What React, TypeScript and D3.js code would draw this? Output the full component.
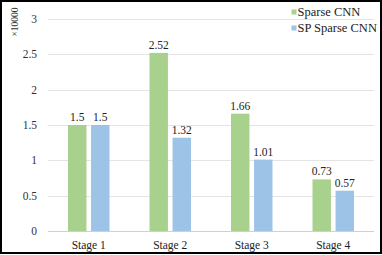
import React, { useRef, useEffect } from 'react';
import * as d3 from 'd3';

const stages = ['Stage 1', 'Stage 2', 'Stage 3', 'Stage 4'];
const seriesNames = ['Sparse CNN', 'SP Sparse CNN'];
const sparseCnn = [1.5, 2.52, 1.66, 0.73];
const spSparseCnn = [1.5, 1.32, 1.01, 0.57];
const yTicks = [0, 0.5, 1, 1.5, 2, 2.5, 3];
const colors = ['#A9D18E', '#9DC3E6'];

export default function App() {
    const svgRef = useRef<SVGSVGElement>(null);
    const width = 382;
    const height = 255;
    const margin = { top: 19, right: 8, bottom: 24, left: 48 };
    const font = '"Liberation Serif", "Times New Roman", serif';

    useEffect(() => {
        const svg = d3.select(svgRef.current);
        svg.selectAll('*').remove();

        const values = [sparseCnn, spSparseCnn];

        const x = d3.scaleBand()
            .domain(stages)
            .range([margin.left, width - margin.right]);

        const inner = d3.scaleBand()
            .domain(seriesNames)
            .range([0, 41.5])
            .paddingInner(0.2);

        const y = d3.scaleLinear()
            .domain([0, 3])
            .range([height - margin.bottom, margin.top]);

        svg.append('rect')
            .attr('width', width)
            .attr('height', height)
            .attr('fill', 'white');

        // gridlines
        svg.append('g')
            .selectAll('line')
            .data(yTicks)
            .join('line')
            .attr('x1', margin.left)
            .attr('x2', width - margin.right)
            .attr('y1', d => Math.round(y(d)) + 0.5)
            .attr('y2', d => Math.round(y(d)) + 0.5)
            .attr('stroke', d => d === 0 ? '#D0D0D0' : '#E4E4E4')
            .attr('stroke-width', 1);

        // y tick labels
        svg.append('g')
            .selectAll('text')
            .data(yTicks)
            .join('text')
            .attr('x', 37)
            .attr('y', d => y(d))
            .attr('dy', '0.35em')
            .attr('text-anchor', 'end')
            .attr('font-family', font)
            .attr('font-size', 11.5)
            .attr('fill', '#333')
            .text(d => d3.format('')(d));

        // unit label
        svg.append('text')
            .attr('transform', 'translate(18,22) rotate(-90)')
            .attr('text-anchor', 'middle')
            .attr('font-family', font)
            .attr('font-size', 9.5)
            .attr('fill', '#333')
            .text('×10000');

        // bars
        seriesNames.forEach((name, si) => {
            const offset = (x.bandwidth() - 41.5) / 2;
            const g = svg.append('g');
            g.selectAll('rect')
                .data(values[si])
                .join('rect')
                .attr('x', (d, i) => x(stages[i])! + offset + inner(name)!)
                .attr('y', d => y(d))
                .attr('width', inner.bandwidth())
                .attr('height', d => y(0) - y(d))
                .attr('fill', colors[si]);
            g.selectAll('text')
                .data(values[si])
                .join('text')
                .attr('x', (d, i) => x(stages[i])! + offset + inner(name)! + inner.bandwidth() / 2)
                .attr('y', d => y(d) - 4)
                .attr('text-anchor', 'middle')
                .attr('font-family', font)
                .attr('font-size', 11.5)
                .attr('fill', '#222')
                .text(d => d);
        });

        // x labels
        svg.append('g')
            .selectAll('text')
            .data(stages)
            .join('text')
            .attr('x', d => x(d)! + x.bandwidth() / 2)
            .attr('y', 249)
            .attr('text-anchor', 'middle')
            .attr('font-family', font)
            .attr('font-size', 11.5)
            .attr('fill', '#222')
            .text(d => d);

        // legend
        const legend = svg.append('g');
        seriesNames.forEach((name, i) => {
            legend.append('rect')
                .attr('x', 291.5)
                .attr('y', 9.5 + i * 16)
                .attr('width', 5)
                .attr('height', 5)
                .attr('fill', colors[i]);
            legend.append('text')
                .attr('x', 297.5)
                .attr('y', 12 + i * 16)
                .attr('dy', '0.35em')
                .attr('font-family', font)
                .attr('font-size', 12.5)
                .attr('fill', '#222')
                .text(name);
        });

        // outer border
        svg.append('rect')
            .attr('x', 1)
            .attr('y', 1)
            .attr('width', width - 2)
            .attr('height', height - 3)
            .attr('fill', 'none')
            .attr('stroke', 'black')
            .attr('stroke-width', 2);
    }, []);

    return (
        <svg
            ref={svgRef}
            width={width}
            height={height}
            style={{ position: 'absolute', left: 0, top: 0, display: 'block' }}
        />
    );
}
